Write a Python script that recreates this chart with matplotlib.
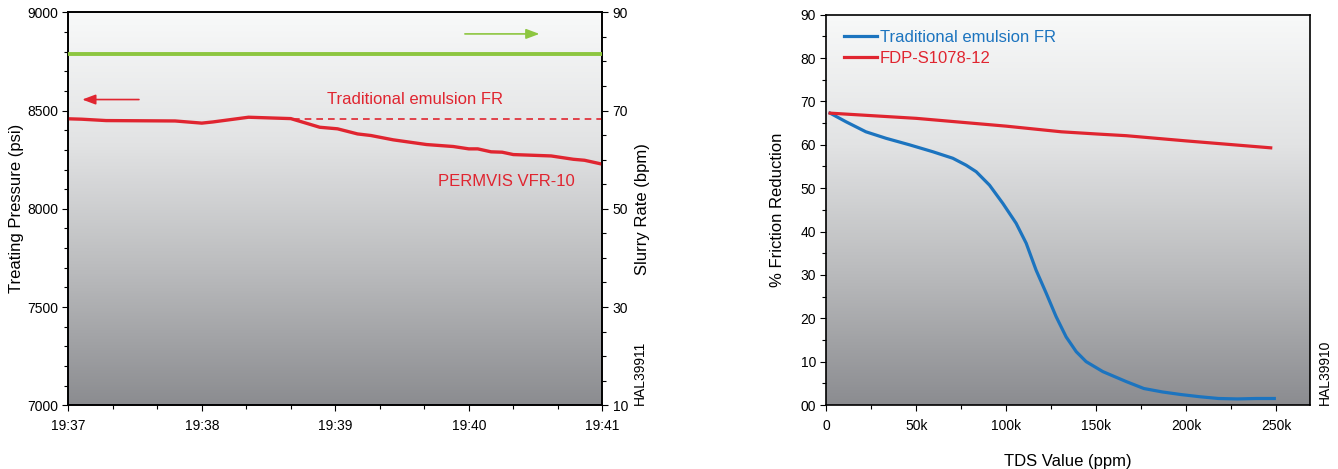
import numpy as np
import matplotlib.pyplot as plt
from matplotlib.colors import LinearSegmentedColormap
from matplotlib.ticker import MultipleLocator, FixedLocator

plt.rcParams['font.family'] = ['Liberation Sans', 'DejaVu Sans']

RED = '#e02530'
BLUE = '#1c74bf'
GREEN = '#8dc640'

# left chart: treating pressure vs time (seconds after 19:37)
time_sec = [0, 6, 17, 48, 60, 65, 81, 100, 108, 113, 121, 130, 136, 146,
            161, 173, 180, 184, 190, 195, 200, 217, 227, 232, 240]
pressure_psi = [8458, 8456, 8449, 8447, 8436, 8442, 8466, 8459, 8432, 8415,
                8407, 8381, 8373, 8351, 8327, 8317, 8305, 8305, 8290, 8288,
                8276, 8269, 8252, 8247, 8227]
emulsion_time = [101, 240]
emulsion_psi = [8459, 8459]
slurry_time = [0, 240]
slurry_bpm = [81.6, 81.6]
time_ticks = [0, 60, 120, 180, 240]
time_labels = ['19:37', '19:38', '19:39', '19:40', '19:41']
rate_ticks = [10, 30, 50, 70, 90]

# right chart: friction reduction vs TDS (thousand ppm)
tds_blue = [2.1, 11, 22, 33.2, 46.2, 59.2, 70.3, 77.7, 83.3, 90.7, 98.1,
            105.5, 111.1, 116.6, 122.2, 127.7, 133.3, 138.9, 144.4, 153.7,
            166.7, 176.5, 186.9, 197.3, 207.7, 218, 228.5, 239, 249]
fr_blue = [67.3, 65.3, 63.0, 61.5, 60.0, 58.4, 56.9, 55.3, 53.8, 50.7, 46.5,
           41.9, 37.3, 31.1, 25.8, 20.4, 15.7, 12.3, 10.0, 7.7,
           5.4, 3.8, 3.0, 2.4, 1.9, 1.5, 1.4, 1.5, 1.5]
tds_red = [2.1, 50, 100, 130.6, 150, 166.7, 200, 247]
fr_red = [67.3, 66.1, 64.3, 63.0, 62.5, 62.1, 60.9, 59.3]
tds_ticks = [0, 50, 100, 150, 200, 250]
tds_labels = ['0', '50k', '100k', '150k', '200k', '250k']
fr_ticks = [0, 10, 20, 30, 40, 50, 60, 70, 80, 90]
fr_labels = ['00', '10', '20', '30', '40', '50', '60', '70', '80', '90']

W, H = 1338, 469
fig = plt.figure(figsize=(W / 100, H / 100), dpi=100)

bg = LinearSegmentedColormap.from_list('bg', ['#f8f9f9', '#e2e3e4', '#b9babc', '#8b8c90'])
grad = np.linspace(0, 1, 256).reshape(-1, 1)


def gradient(ax):
    # row 0 (light) at the top
    ax.imshow(grad, cmap=bg, aspect='auto', origin='upper', extent=(0, 1, 0, 1),
              transform=ax.transAxes, zorder=0)


def style(ax):
    for s in ax.spines.values():
        s.set_linewidth(1.2)
    ax.tick_params(which='both', direction='out', labelsize=10, width=0.8)
    ax.tick_params(which='major', length=4)
    ax.tick_params(which='minor', length=3)


# ---- left chart
ax1 = fig.add_axes([68.3 / W, 1 - 405.3 / H, 534 / W, 393 / H])
gradient(ax1)
ax1.plot(time_sec, pressure_psi, color=RED, lw=2.4, zorder=3)
ax1.plot(emulsion_time, emulsion_psi, color=RED, lw=1.2, ls=(0, (4, 3)), zorder=3)
ax1.set_xlim(0, 240)
ax1.set_ylim(7000, 9000)
ax1.xaxis.set_major_locator(FixedLocator(time_ticks))
ax1.set_xticklabels(time_labels)
ax1.xaxis.set_minor_locator(MultipleLocator(20))
ax1.yaxis.set_major_locator(MultipleLocator(500))
ax1.yaxis.set_minor_locator(MultipleLocator(100))
ax1.set_ylabel('Treating Pressure (psi)', fontsize=12, labelpad=2)
style(ax1)
ax1.tick_params(axis='x', pad=6)

ax1.annotate('', xy=(5, 8556), xytext=(33, 8556),
             arrowprops=dict(arrowstyle='-|>,head_length=0.8,head_width=0.3',
                             color=RED, lw=1.2))
ax1.text(156, 8556, 'Traditional emulsion FR', color=RED, fontsize=12,
         ha='center', va='center')
ax1.text(197, 8139, 'PERMVIS VFR-10', color=RED, fontsize=12,
         ha='center', va='center')

ax1r = ax1.twinx()
ax1r.plot(slurry_time, slurry_bpm, color=GREEN, lw=2.8, zorder=3)
ax1r.set_ylim(10, 90)
ax1r.yaxis.set_major_locator(FixedLocator(rate_ticks))
ax1r.yaxis.set_minor_locator(MultipleLocator(5))
ax1r.set_ylabel('Slurry Rate (bpm)', fontsize=12, labelpad=5)
style(ax1r)
ax1r.annotate('', xy=(213, 85.6), xytext=(177, 85.6),
              arrowprops=dict(arrowstyle='-|>,head_length=0.8,head_width=0.3',
                              color=GREEN, lw=1.2))
fig.text(640 / W, 1 - 405 / H, 'HAL39911', rotation=90, fontsize=10,
         ha='center', va='bottom')

# ---- right chart
ax2 = fig.add_axes([826.3 / W, 1 - 405 / H, 484 / W, 390.3 / H])
gradient(ax2)
ax2.plot(tds_blue, fr_blue, color=BLUE, lw=2.3, label='Traditional emulsion FR', zorder=3)
ax2.plot(tds_red, fr_red, color=RED, lw=2.3, label='FDP-S1078-12', zorder=3)
ax2.set_xlim(0, 269)
ax2.set_ylim(0, 90)
ax2.xaxis.set_major_locator(FixedLocator(tds_ticks))
ax2.set_xticklabels(tds_labels)
ax2.xaxis.set_minor_locator(MultipleLocator(25))
ax2.yaxis.set_major_locator(FixedLocator(fr_ticks))
ax2.set_yticklabels(fr_labels)
ax2.yaxis.set_minor_locator(MultipleLocator(5))
ax2.set_xlabel('TDS Value (ppm)', fontsize=12, labelpad=15)
ax2.set_ylabel('% Friction Reduction', fontsize=12, labelpad=11)
style(ax2)
ax2.tick_params(axis='x', pad=6)
leg = ax2.legend(loc='upper left', frameon=False, fontsize=12, handlelength=2.0,
                 handletextpad=0.15, borderaxespad=0.5, labelspacing=0.35,
                 bbox_to_anchor=(0.005, 1.0))
for txt, line in zip(leg.get_texts(), leg.get_lines()):
    txt.set_color(line.get_color())
fig.text(1325 / W, 1 - 405 / H, 'HAL39910', rotation=90, fontsize=10,
         ha='center', va='bottom')

fig.savefig('out.png', dpi=100)
